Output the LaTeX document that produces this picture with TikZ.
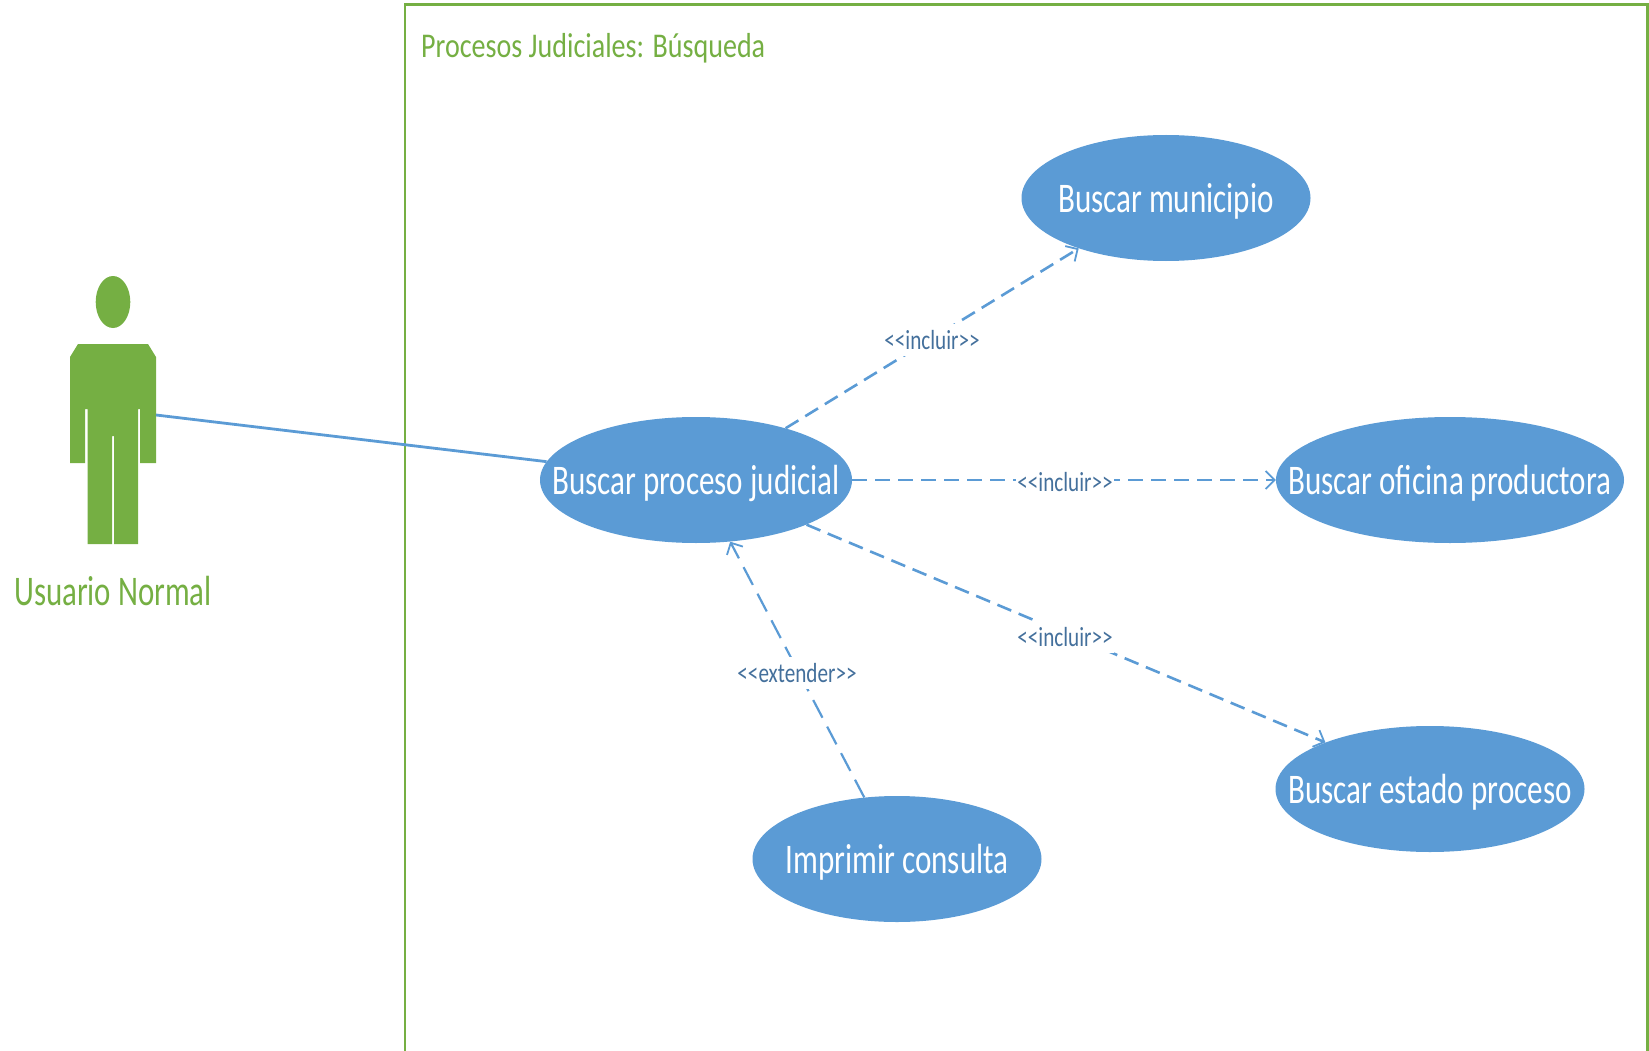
\documentclass[tikz,border=0pt]{standalone}
\usepackage{fontspec}
\setmainfont{Carlito}
\usetikzlibrary{shapes.geometric,arrows.meta}
\definecolor{ublue}{HTML}{5B9BD5}
\definecolor{ugreen}{HTML}{75AF43}
\definecolor{ulabel}{HTML}{44709C}
\tikzset{
  usecase/.style n args={3}{ellipse,fill=ublue,inner sep=0pt,minimum width=#1,minimum height=#2,
     label={[text=white,font=\fontsize{37}{40}\selectfont,inner sep=0pt,xscale=.84,yscale=1.14,yshift=-3pt]center:#3}},
  include/.style={draw=ublue,line width=2.6pt,dash pattern=on 15pt off 8pt,-{Straight Barb[length=9pt,width=18pt,line width=1.8pt]}},
  extend/.style={draw=ublue,line width=2.2pt,dash pattern=on 20pt off 10pt,-{Straight Barb[length=9pt,width=18pt,line width=1.8pt]}},
  stereo/.style={text=ulabel,fill=white,inner xsep=2pt,inner ysep=5pt,font=\fontsize{23}{26}\selectfont,xscale=.92,yscale=1.2},
  assoc/.style={draw=ublue,line width=2.8pt},
  actorfill/.style={fill=ugreen,draw=none}
}
\begin{document}
\begin{tikzpicture}[x=1pt,y=-1pt]
\useasboundingbox (0,0) rectangle (1649,1051);
% system boundary
\draw[ugreen,line width=2.6pt] (405,1051) -- (405,4.5) -- (1647.5,4.5) -- (1647.5,1051);
\node[text=ugreen,anchor=west,inner sep=0pt,font=\fontsize{31}{34}\selectfont,xscale=.905,yscale=1.12] (title) at (421,48) {Procesos Judiciales: Búsqueda};
% actor
\fill[actorfill] (113,302) ellipse [x radius=17.3,y radius=26];
\fill[actorfill] (78,344) -- (148,344) -- (156,357) -- (156,463) -- (140,463) -- (140,409) -- (138,409)
  -- (138,544) -- (114,544) -- (114,436) -- (112,436) -- (112,544) -- (87.5,544) -- (87.5,409) -- (85,409)
  -- (85,463) -- (70,463) -- (70,357) -- cycle;
\coordinate (actorhand) at (156,415);
\node[text=ugreen,inner sep=0pt,font=\fontsize{37}{40}\selectfont,xscale=.835,yscale=1.14] (actorname) at (113,591) {Usuario Normal};
% use cases
\node[usecase={312pt}{126pt}{Buscar proceso judicial}] (proceso) at (696,480) {};
\node[usecase={289pt}{126pt}{Buscar municipio}] (municipio) at (1166,198) {};
\node[usecase={348pt}{126pt}{Buscar oficina productora}] (oficina) at (1450,480) {};
\node[usecase={309pt}{126pt}{Buscar estado proceso}] (estado) at (1430,789) {};
\node[usecase={289pt}{126pt}{Imprimir consulta}] (imprimir) at (897,859) {};
% connectors
\draw[assoc] (actorhand) -- (proceso.173);
\draw[include] (proceso.30.6) -- (municipio.210.4);
\draw[include] (proceso.0) -- (oficina.180);
\draw[include] (proceso.-22.7) -- (estado.156.9);
\draw[extend] (imprimir.118) -- (proceso.-61.6);
% stereotypes
\node[stereo] (l1) at (932,340) {<{}<incluir>{}>};
\node[stereo,inner ysep=0pt] (l2) at (1065,482) {<{}<incluir>{}>};
\node[stereo] (l3) at (1065,637) {<{}<incluir>{}>};
\node[stereo] (l4) at (797,673) {<{}<extender>{}>};
\end{tikzpicture}
\end{document}
